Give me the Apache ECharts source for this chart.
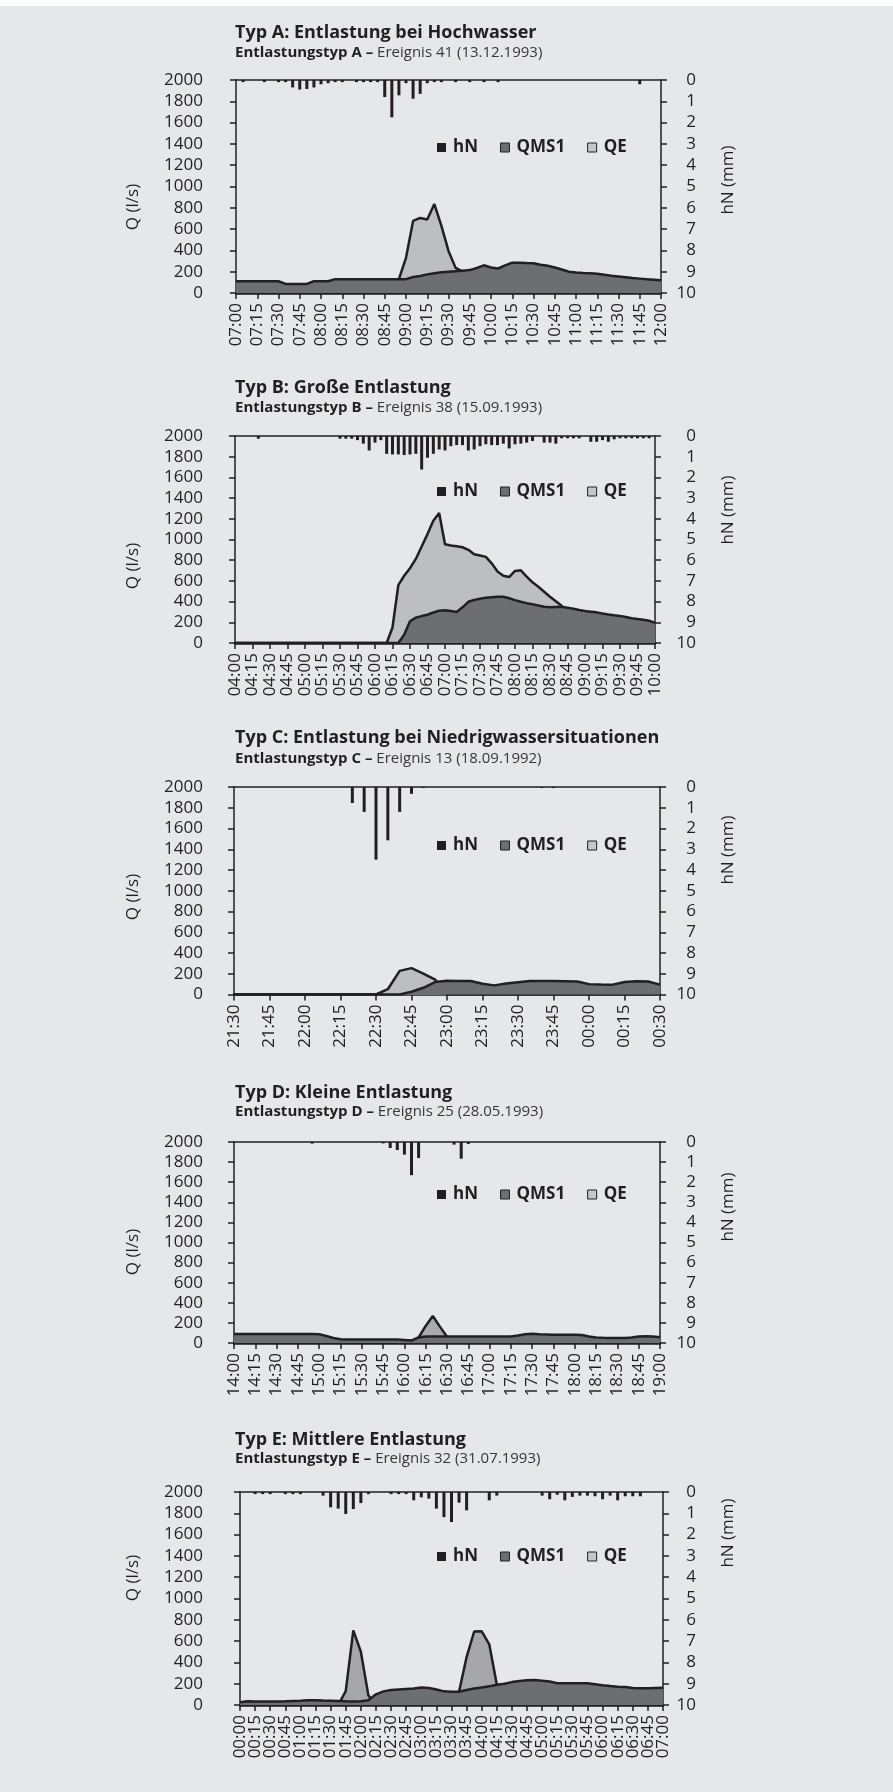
<!DOCTYPE html>
<html>
<head>
<meta charset="utf-8">
<script src="https://cdn.jsdelivr.net/npm/echarts@6/dist/echarts.min.js"></script>
<style>
    html, body { margin: 0; padding: 0; background: #ffffff; }
    #bg { position: absolute; left: 0; top: 6px; width: 893px; height: 1786px; background: #e6e7e8; }
    #chart { position: absolute; left: 0; top: 0; width: 893px; height: 1792px; }
</style>
</head>
<body>
<div id="bg"></div>
<div id="chart"></div>
<script>
    // time labels hh:mm from a start time, step in minutes
    function timeCats(h, m, count, step) {
        let out = [];
        for (let i = 0; i < count; i++) {
            let t = Math.floor(h * 60 + m + i * step) % 1440;
            let hh = Math.floor(t / 60), mm = t % 60;
            out.push((hh < 10 ? '0' : '') + hh + ':' + (mm < 10 ? '0' : '') + mm);
        }
        return out;
    }

    // Typ A
    const catsA = timeCats(7, 0, 61, 5);
    const qmsA = [110, 110, 110, 110, 110, 110, 110, 85, 85, 85, 85, 110, 110, 110,
        130, 130, 130, 130, 130, 130, 130, 130, 130, 130, 130,
        150, 160, 175, 185, 195, 200, 205, 210, 215, 235, 260, 240, 230, 260, 285, 285, 282, 280,
        265, 255, 240, 220, 200, 192, 188, 185, 180, 172, 162, 155, 148, 140, 135, 130, 125, 120];
    const qeA = [0, 0, 0, 0, 0, 0, 0, 0, 0, 0, 0, 0, 0, 0, 0, 0, 0, 0, 0, 0, 0, 0, 0,
        130, 330, 677, 705, 690, 835, 630, 395, 236, 200,
        0, 0, 0, 0, 0, 0, 0, 0, 0, 0, 0, 0, 0, 0, 0, 0, 0, 0, 0, 0, 0, 0, 0, 0, 0, 0, 0, 0];
    const hnA = [0, 0.1, 0, 0, 0.1, 0, 0.1, 0.1, 0.35, 0.45, 0.42, 0.35, 0.2, 0.15, 0.1, 0.1, 0,
        0.1, 0.1, 0.1, 0.1, 0.8, 1.75, 0.72, 0.15, 0.88, 0.65, 0.15, 0.1, 0.1, 0, 0.1, 0, 0.1, 0, 0.1, 0, 0.1,
        0, 0, 0, 0, 0, 0, 0, 0, 0, 0, 0, 0, 0, 0, 0, 0, 0, 0, 0, 0.2, 0, 0, 0];

    // Typ B
    const catsB = timeCats(4, 0, 73, 5);
    const qeB = [0, 0, 0, 0, 0, 0, 0, 0, 0, 0, 0, 0, 0, 0, 0, 0, 0, 0, 0, 0, 0, 0, 0, 0, 0, 0, 0,
        150, 560, 650, 722, 812, 932, 1052, 1181, 1256, 955, 942, 935, 925, 900, 858, 845, 832, 770,
        690, 650, 637, 696, 702, 641, 586, 544, 495, 447, 404, 359,
        0, 0, 0, 0, 0, 0, 0, 0, 0, 0, 0, 0, 0, 0, 0, 0];
    const qmsB = [0, 0, 0, 0, 0, 0, 0, 0, 0, 0, 0, 0, 0, 0, 0, 0, 0, 0, 0, 0, 0, 0, 0, 0, 0, 0, 0, 0, 0,
        80, 210, 245, 260, 273, 295, 312, 317, 310, 300, 345, 398, 415, 428, 437, 443, 447, 447, 432,
        414, 398, 385, 375, 362, 350, 345, 348, 350, 340, 330, 318, 310, 303, 296, 285, 275, 268, 262,
        252, 240, 232, 225, 215, 195];
    const hnB = [0, 0, 0, 0, 0.13, 0, 0, 0, 0, 0, 0, 0, 0, 0, 0, 0, 0, 0,
        0.13, 0.13, 0.13, 0.2, 0.37, 0.7, 0.32, 0.2, 0.86, 0.89, 0.89, 0.92, 0.89, 0.86, 1.62, 1.05,
        0.86, 0.65, 0.7, 0.49, 0.44, 0.44, 0.7, 0.65, 0.49, 0.4, 0.44, 0.44, 0.37, 0.6, 0.4, 0.37,
        0.32, 0.24, 0, 0.32, 0.32, 0.37, 0.11, 0.11, 0.11, 0.11, 0, 0.28, 0.28, 0.2, 0.28, 0.16,
        0.11, 0.11, 0.11, 0.11, 0.11, 0.11, 0];

    // Typ C
    const catsC = timeCats(21, 30, 37, 5);
    const qeC = [0, 0, 0, 0, 0, 0, 0, 0, 0, 0, 0, 0, 0, 51, 228, 254, 202, 144,
        0, 0, 0, 0, 0, 0, 0, 0, 0, 0, 0, 0, 0, 0, 0, 0, 0, 0, 0];
    const qmsC = [0, 0, 0, 0, 0, 0, 0, 0, 0, 0, 0, 0, 0, 0, 0,
        26, 65, 120, 132, 130, 130, 103, 88, 105, 118, 130, 130, 130, 128, 125, 100, 97, 95, 120, 128, 125, 95];
    const hnC = [0, 0, 0, 0, 0, 0, 0, 0, 0, 0, 0.77, 1.2, 3.5, 2.57, 1.2, 0.33, 0.05,
        0, 0, 0, 0, 0, 0, 0, 0, 0, 0.05, 0.05, 0, 0, 0, 0, 0, 0, 0, 0, 0];

    // Typ D
    const catsD = timeCats(14, 0, 61, 5);
    const qmsD = [90, 90, 90, 90, 90, 90, 90, 90, 90, 90, 90, 90, 88, 70, 50, 37,
        35, 35, 35, 35, 35, 35, 35, 35, 30, 25, 55, 65, 65, 65, 65, 65, 65, 65, 65, 65, 65, 65, 65, 65,
        75, 88, 92, 88, 85, 82, 82, 82, 82, 80, 65, 55, 52, 50, 50, 50, 55, 65, 68, 65, 58];
    const qeD = [0, 0, 0, 0, 0, 0, 0, 0, 0, 0, 0, 0, 0, 0, 0, 0, 0, 0, 0, 0, 0, 0, 0, 0, 0, 0,
        55, 170, 268, 163, 62,
        0, 0, 0, 0, 0, 0, 0, 0, 0, 0, 0, 0, 0, 0, 0, 0, 0, 0, 0, 0, 0, 0, 0, 0, 0, 0, 0, 0, 0, 0];
    const hnD = [0, 0, 0, 0, 0, 0, 0, 0, 0, 0, 0, 0.08, 0, 0, 0, 0, 0, 0, 0, 0, 0,
        0.07, 0.3, 0.4, 0.63, 1.65, 0.8, 0, 0, 0, 0, 0.13, 0.83, 0.1,
        0, 0, 0, 0, 0, 0, 0, 0, 0, 0, 0, 0, 0, 0, 0, 0, 0, 0, 0, 0, 0, 0, 0, 0, 0, 0, 0];

    // Typ E (7.5 min steps, label every second)
    const catsE = timeCats(0, 0, 57, 7.5);
    const qmsE = [25, 35, 32, 32, 32, 33, 35, 38, 40, 45, 45, 42, 40, 38, 35, 33, 35, 45, 100, 128,
        140, 145, 150, 155, 165, 160, 145, 128, 125, 125, 140, 155, 165, 175, 190, 200, 215, 225,
        232, 235, 228, 220, 205, 204, 204, 204, 204, 195, 185, 178, 172, 168, 160, 157, 157, 160, 163];
    const qeE = [0, 0, 0, 0, 0, 0, 0, 0, 0, 0, 0, 0, 0, 0, 130, 700, 500, 90,
        0, 0, 0, 0, 0, 0, 0, 0, 0, 0, 0, 125, 450, 690, 692, 570, 190,
        0, 0, 0, 0, 0, 0, 0, 0, 0, 0, 0, 0, 0, 0, 0, 0, 0, 0, 0, 0, 0, 0];
    const hnE = [0, 0, 0.1, 0.1, 0.1, 0, 0.1, 0.1, 0.1, 0, 0, 0.17, 0.72, 0.78, 1.03, 0.8, 0.52, 0.1,
        0, 0, 0.1, 0.1, 0.1, 0.39, 0.25, 0.31, 0.78, 1.18, 1.41, 0.5, 0.86, 0, 0, 0.39, 0.17,
        0, 0, 0, 0, 0, 0.17, 0.34, 0.13, 0.39, 0.23, 0.17, 0.17, 0.2, 0.34, 0.17, 0.39, 0.2, 0.2, 0.2, 0, 0, 0];

    const FONT = '"Open Sans", "Noto Sans", sans-serif';
    const INK = '#231f20';
    const QMS_COLOR = '#6d6e70';

    const panels = [
        {title: 'Typ A: Entlastung bei Hochwasser', sub: 'Entlastungstyp A –', ev: ' Ereignis 41 (13.12.1993)',
            cats: catsA, qms: qmsA, qe: qeA, hn: hnA, grid: {left: 236, top: 80, width: 425, height: 213},
            titleY: 33, subY: 53, qY: 207, hY: 180, legendY: 144, lm: 33, rm: 35, iv: 2, qeColor: '#bdbec0'},
        {title: 'Typ B: Große Entlastung', sub: 'Entlastungstyp B –', ev: ' Ereignis 38 (15.09.1993)',
            cats: catsB, qms: qmsB, qe: qeB, hn: hnB, grid: {left: 235, top: 436, width: 420, height: 207},
            titleY: 387.5, subY: 407.5, qY: 566, hY: 510, legendY: 488, lm: 32, rm: 41, iv: 2, qeColor: '#bdbec0'},
        {title: 'Typ C: Entlastung bei Niedrigwassersituationen', sub: 'Entlastungstyp C –', ev: ' Ereignis 13 (18.09.1992)',
            cats: catsC, qms: qmsC, qe: qeC, hn: hnC, grid: {left: 234, top: 787, width: 426, height: 207.5},
            titleY: 737.5, subY: 758.5, qY: 897, hY: 850, legendY: 842, lm: 31, rm: 36, iv: 2, qeColor: '#bdbec0'},
        {title: 'Typ D: Kleine Entlastung', sub: 'Entlastungstyp D –', ev: ' Ereignis 25 (28.05.1993)',
            cats: catsD, qms: qmsD, qe: qeD, hn: hnD, grid: {left: 234, top: 1142, width: 426, height: 201},
            titleY: 1093, subY: 1112, qY: 1252, hY: 1207, legendY: 1191, lm: 31, rm: 36, iv: 2, qeColor: '#a9aaac'},
        {title: 'Typ E: Mittlere Entlastung', sub: 'Entlastungstyp E –', ev: ' Ereignis 32 (31.07.1993)',
            cats: catsE, qms: qmsE, qe: qeE, hn: hnE, grid: {left: 240, top: 1492, width: 423, height: 213},
            titleY: 1439.5, subY: 1458.5, qY: 1578, hY: 1533, legendY: 1553, lm: 37, rm: 33, iv: 1, qeColor: '#a6a7a9'}
    ];

    let grid = [], xAxis = [], yAxis = [], series = [], legend = [], graphic = [];
    let plain = function (v) { return String(v); };

    panels.forEach(function (p, k) {
        grid.push(Object.assign({containLabel: false}, p.grid));
        let lineAxis = {color: INK, width: 1.5};
        let step = p.iv + 1;
        xAxis.push({
            gridIndex: k, type: 'category', data: p.cats, boundaryGap: false, position: 'bottom',
            axisLine: {onZero: false, lineStyle: {color: INK, width: 2.5}},
            axisTick: {interval: p.iv, length: 6, lineStyle: lineAxis},
            axisLabel: {
                interval: 0, rotate: 90, margin: 10, fontSize: 17, color: INK, fontFamily: FONT,
                hideOverlap: false,
                formatter: function (v, i) { return i % step === 0 ? v : ''; }
            }
        });
        xAxis.push({
            gridIndex: k, type: 'category', data: p.cats, boundaryGap: false, position: 'top',
            axisLine: {onZero: false, lineStyle: lineAxis},
            axisTick: {show: false}, axisLabel: {show: false}
        });
        yAxis.push({
            gridIndex: k, type: 'value', min: 0, max: 2000, interval: 200, position: 'left',
            axisLine: {show: true, onZero: false, lineStyle: lineAxis},
            axisTick: {show: true, length: 6, lineStyle: lineAxis},
            splitLine: {show: false},
            axisLabel: {margin: p.lm, fontSize: 17, color: INK, fontFamily: FONT, formatter: plain}
        });
        yAxis.push({
            gridIndex: k, type: 'value', min: 0, max: 10, interval: 1, inverse: true, position: 'right',
            axisLine: {show: true, onZero: false, lineStyle: lineAxis},
            axisTick: {show: true, length: 6, lineStyle: lineAxis},
            splitLine: {show: false},
            axisLabel: {margin: p.rm, align: 'right', fontSize: 17, color: INK, fontFamily: FONT, formatter: plain}
        });
        series.push({
            name: 'QE', type: 'line', xAxisIndex: 2 * k, yAxisIndex: 2 * k, data: p.qe,
            symbol: 'none', lineStyle: {color: INK, width: 2.5}, itemStyle: {color: p.qeColor},
            areaStyle: {color: p.qeColor, opacity: 1}, z: 2, animation: false
        });
        series.push({
            name: 'QMS1', type: 'line', xAxisIndex: 2 * k, yAxisIndex: 2 * k, data: p.qms,
            symbol: 'none', lineStyle: {color: INK, width: 2.5}, itemStyle: {color: QMS_COLOR},
            areaStyle: {color: QMS_COLOR, opacity: 1}, z: 3, animation: false
        });
        series.push({
            name: 'hN', type: 'bar', xAxisIndex: 2 * k + 1, yAxisIndex: 2 * k + 1, data: p.hn,
            barWidth: 3, itemStyle: {color: INK}, z: 4, animation: false
        });
        legend.push({
            left: 432, top: p.legendY - 10, orient: 'horizontal', icon: 'rect',
            itemWidth: 9, itemHeight: 9, itemGap: 22, selectedMode: false,
            textStyle: {fontSize: 17, fontWeight: 'bold', color: INK, fontFamily: FONT, padding: [0, 0, 0, 2]},
            data: [
                {name: 'hN', itemStyle: {color: INK, borderWidth: 0}},
                {name: 'QMS1', itemStyle: {color: QMS_COLOR, borderColor: INK, borderWidth: 1}},
                {name: 'QE', itemStyle: {color: '#c6c7c9', borderColor: INK, borderWidth: 1}}
            ]
        });
        graphic.push({
            type: 'text', x: 235, y: p.titleY,
            style: {text: p.title, fill: INK, font: 'bold 18px ' + FONT, verticalAlign: 'middle'}
        });
        graphic.push({
            type: 'text', x: 235, y: p.subY,
            style: {
                text: '{b|' + p.sub + '}{r|' + p.ev + '}', verticalAlign: 'middle',
                rich: {
                    b: {fill: INK, fontWeight: 'bold', fontSize: 15, fontFamily: FONT},
                    r: {fill: '#3a3637', fontSize: 15, fontFamily: FONT}
                }
            }
        });
        graphic.push({
            type: 'text', x: 133, y: p.qY, rotation: Math.PI / 2,
            style: {text: 'Q (l/s)', fill: INK, font: '17px ' + FONT, align: 'center', verticalAlign: 'middle'}
        });
        graphic.push({
            type: 'text', x: 728, y: p.hY, rotation: Math.PI / 2,
            style: {text: 'hN (mm)', fill: INK, font: '17px ' + FONT, align: 'center', verticalAlign: 'middle'}
        });
    });

    let chart = echarts.init(document.getElementById('chart'));
    chart.setOption({
        animation: false,
        backgroundColor: 'transparent',
        textStyle: {fontFamily: FONT},
        grid: grid,
        xAxis: xAxis,
        yAxis: yAxis,
        legend: legend,
        graphic: graphic,
        series: series
    });
    window.addEventListener('resize', function () {
        chart.resize();
    });
</script>
</body>
</html>
